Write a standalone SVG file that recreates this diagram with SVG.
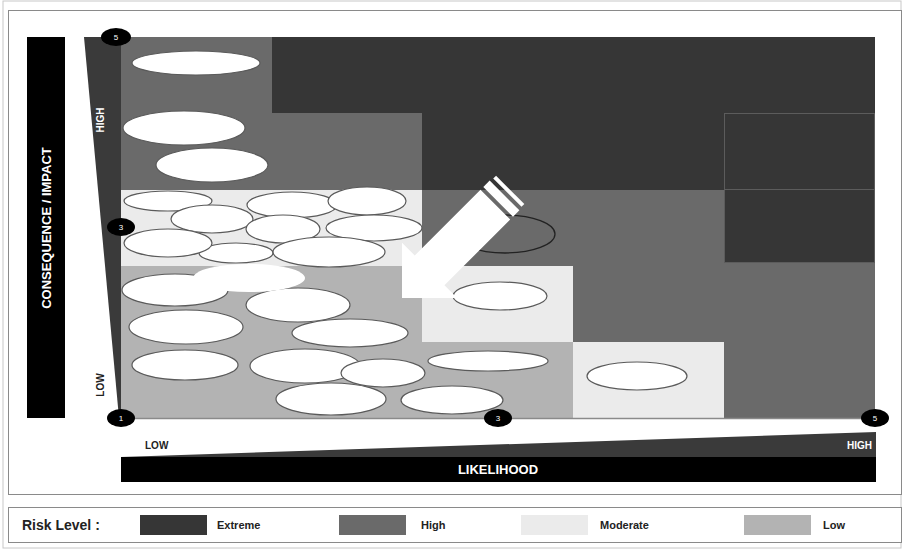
<svg xmlns="http://www.w3.org/2000/svg" width="902" height="550" viewBox="0 0 902 550">
<style>
.ex{fill:#363636}.hi{fill:#6a6a6a}.mo{fill:#ebebeb}.lo{fill:#b3b3b3}
.r{fill:#fff;stroke:#5a5a5a;stroke-width:1.2}
.num{fill:#000}
.numt{font-family:"Liberation Sans",Arial,sans-serif;font-size:8px;fill:#fff;text-anchor:middle}
.b{font-family:"Liberation Sans",Arial,sans-serif;font-weight:bold}
</style>
<rect x="0" y="0" width="902" height="550" fill="#fff"/>
<rect x="3" y="1" width="898" height="547" fill="none" stroke="#c8c8c8" stroke-width="1"/>
<rect x="8.5" y="10.5" width="893" height="484" fill="#fff" stroke="#8a8a8a" stroke-width="1"/>
<rect x="8.5" y="507.5" width="893" height="35" fill="#fff" stroke="#8a8a8a" stroke-width="1"/>

<g id="grid">
<rect class="hi" x="121" y="37" width="151" height="153"/>
<rect class="ex" x="272" y="37" width="603" height="76"/>
<rect class="hi" x="272" y="113" width="150" height="77"/>
<rect class="ex" x="422" y="113" width="453" height="77"/>
<rect class="mo" x="121" y="190" width="301" height="76"/>
<rect class="hi" x="422" y="190" width="302" height="76"/>
<rect class="ex" x="724" y="190" width="151" height="73"/>
<rect class="hi" x="724" y="263" width="151" height="3"/>
<rect class="lo" x="121" y="266" width="301" height="76"/>
<rect class="mo" x="422" y="266" width="151" height="76"/>
<rect class="hi" x="573" y="266" width="302" height="76"/>
<rect class="lo" x="121" y="342" width="452" height="76"/>
<rect class="mo" x="573" y="342" width="151" height="76"/>
<rect class="hi" x="724" y="342" width="151" height="76"/>
<rect x="724.5" y="113.5" width="150" height="76" fill="none" stroke="#5c5c5c" stroke-width="1"/>
<rect x="724.5" y="189.5" width="150" height="73" fill="none" stroke="#5c5c5c" stroke-width="1"/>
<line x1="121" y1="418.5" x2="875" y2="418.5" stroke="#8a8a8a" stroke-width="1.5"/>
</g>

<g id="axis-y">
<rect x="27" y="37" width="38" height="381" fill="#000"/>
<text class="b" x="0" y="0" transform="translate(51,228) rotate(-90)" font-size="13" fill="#fff" text-anchor="middle">CONSEQUENCE / IMPACT</text>
<polygon points="84,37 121,37 121,418 119,418" fill="#3a3a3a"/>
<text class="b" x="0" y="0" transform="translate(104,120) rotate(-90)" font-size="10" fill="#fff" text-anchor="middle">HIGH</text>
<text class="b" x="0" y="0" transform="translate(104,385) rotate(-90)" font-size="10" fill="#222" text-anchor="middle">LOW</text>
</g>

<g id="axis-x">
<polygon points="121,457 876,432 876,457" fill="#3a3a3a"/>
<rect x="121" y="457" width="755" height="25" fill="#000"/>
<text class="b" x="498" y="474" font-size="13" fill="#fff" text-anchor="middle">LIKELIHOOD</text>
<text class="b" x="145" y="449" font-size="10" fill="#222">LOW</text>
<text class="b" x="872" y="449" font-size="10" fill="#fff" text-anchor="end">HIGH</text>
</g>

<g id="risks">
<g id="r1"><ellipse class="r" cx="196" cy="63" rx="64" ry="12"/></g>
<g id="r2"><ellipse class="r" cx="184" cy="128" rx="61" ry="17"/></g>
<g id="r3"><ellipse class="r" cx="212" cy="165" rx="56" ry="17"/></g>
<g id="r4"><ellipse class="r" cx="168" cy="201" rx="44" ry="10"/></g>
<g id="r5"><ellipse class="r" cx="292" cy="205" rx="45" ry="13"/></g>
<g id="r6"><ellipse class="r" cx="367" cy="201" rx="39" ry="14"/></g>
<g id="r7"><ellipse class="r" cx="212" cy="219" rx="41" ry="14"/></g>
<g id="r8"><ellipse class="r" cx="283" cy="229" rx="37" ry="14"/></g>
<g id="r9"><ellipse class="r" cx="374" cy="228" rx="48" ry="13"/></g>
<g id="r11"><ellipse class="r" cx="236" cy="253" rx="37" ry="10"/></g>
<g id="r10"><ellipse class="r" cx="168" cy="243" rx="44" ry="14"/></g>
<g id="r12"><ellipse class="r" cx="329" cy="252" rx="56" ry="15"/></g>
<g id="r14"><ellipse class="r" cx="175" cy="290" rx="53" ry="16"/></g>
<g id="r15"><ellipse class="r" cx="298" cy="305" rx="52" ry="17"/></g>
<g id="r13"><ellipse cx="249" cy="278" rx="56" ry="14" fill="#fff"/></g>
<g id="r16"><ellipse class="r" cx="186" cy="327" rx="57" ry="17"/></g>
<g id="r17"><ellipse class="r" cx="350" cy="333" rx="58" ry="14"/></g>
<g id="r18"><ellipse class="r" cx="185" cy="365" rx="53" ry="15"/></g>
<g id="r19"><ellipse class="r" cx="305" cy="366" rx="55" ry="17"/></g>
<g id="r21"><ellipse class="r" cx="331" cy="399" rx="55" ry="16"/></g>
<g id="r20"><ellipse class="r" cx="383" cy="373" rx="42" ry="14"/></g>
<g id="r22"><ellipse class="r" cx="452" cy="400" rx="51" ry="14"/></g>
<g id="r23"><ellipse class="r" cx="488" cy="361" rx="60" ry="10"/></g>
<g id="r24"><ellipse class="r" cx="500" cy="296" rx="47" ry="14"/></g>
<g id="r25"><ellipse cx="505" cy="234" rx="50" ry="19" fill="none" stroke="#222" stroke-width="1.3"/></g>
<g id="r26"><ellipse class="r" cx="637" cy="376" rx="50" ry="14"/></g>
</g>

<g id="connectors">
<g id="trend-arrow" transform="translate(402,298) rotate(135)" fill="#fff">
<polygon points="0,0 -39,39 -39,21 -132,21 -132,-21 -39,-21 -39,-39"/>
<rect x="-145" y="-21" width="9" height="42"/>
<rect x="-153" y="-20" width="4" height="40"/>
</g>
</g>

<g id="scale-markers">
<g id="m5y"><ellipse class="num" cx="116" cy="37" rx="15" ry="9"/><text class="numt" x="116" y="40">5</text></g>
<g id="m3y"><ellipse class="num" cx="121" cy="227" rx="14" ry="9"/><text class="numt" x="121" y="230">3</text></g>
<g id="m1"><ellipse class="num" cx="121" cy="418" rx="14" ry="9"/><text class="numt" x="121" y="421">1</text></g>
<g id="m3x"><ellipse class="num" cx="498" cy="418" rx="14" ry="9"/><text class="numt" x="498" y="421">3</text></g>
<g id="m5x"><ellipse class="num" cx="875" cy="418" rx="14" ry="9"/><text class="numt" x="875" y="421">5</text></g>
</g>

<g id="legend">
<text class="b" x="22" y="530" font-size="14" fill="#222">Risk Level  :</text>
<rect class="ex" x="140" y="515" width="67" height="20"/>
<text class="b" x="217" y="529" font-size="11" fill="#222">Extreme</text>
<rect class="hi" x="339" y="515" width="67" height="20"/>
<text class="b" x="421" y="529" font-size="11" fill="#222">High</text>
<rect class="mo" x="521" y="515" width="67" height="20"/>
<text class="b" x="600" y="529" font-size="11" fill="#222">Moderate</text>
<rect class="lo" x="744" y="515" width="67" height="20"/>
<text class="b" x="823" y="529" font-size="11" fill="#222">Low</text>
</g>
</svg>
